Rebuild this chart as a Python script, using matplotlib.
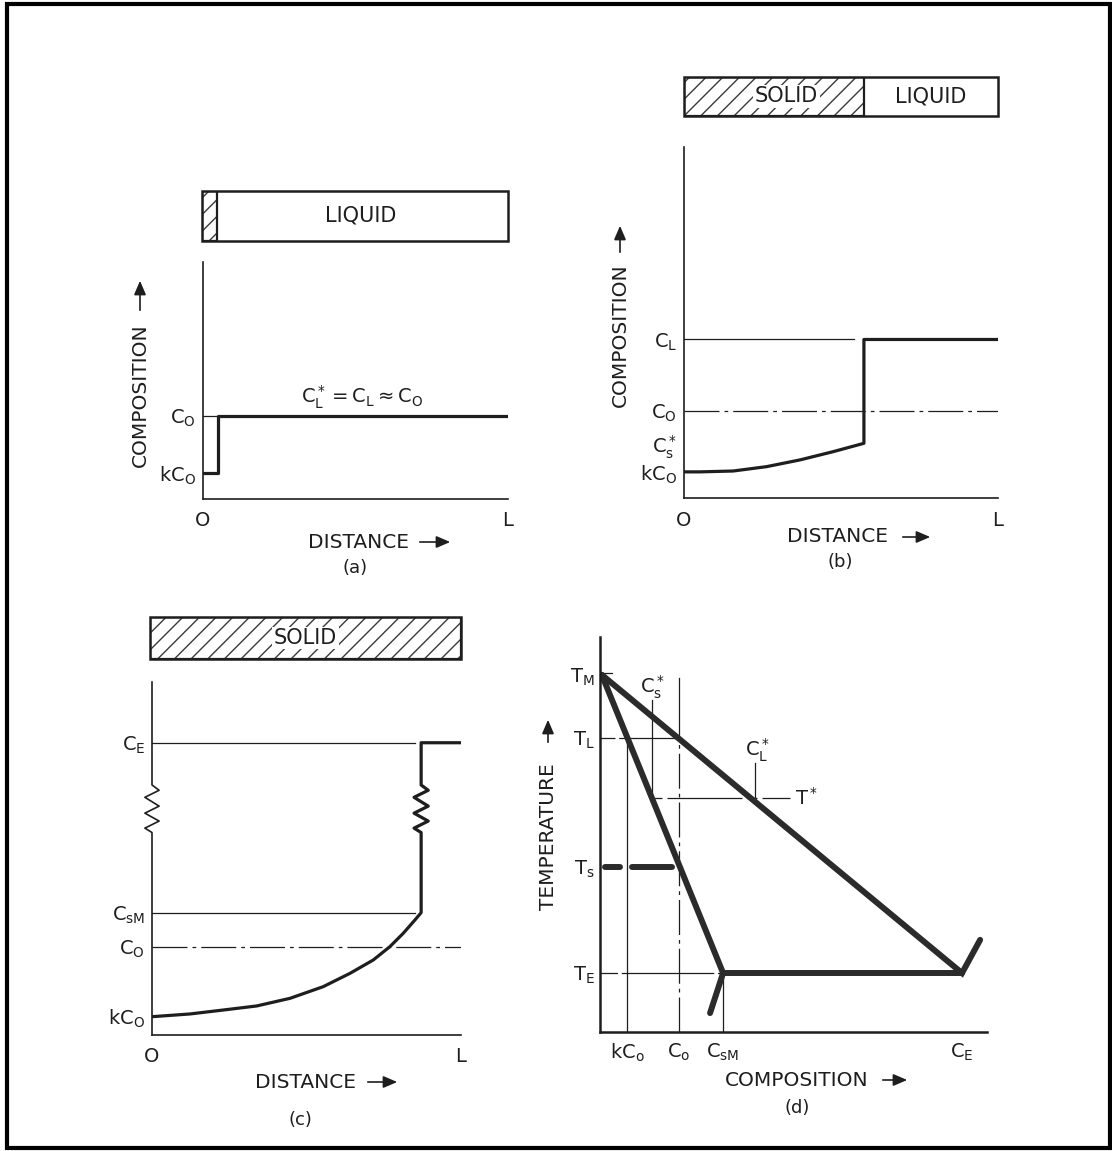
import numpy as np
import matplotlib.pyplot as plt
from matplotlib.patches import Rectangle, FancyArrowPatch

plt.rcParams['font.family'] = ['DejaVu Sans']
plt.rcParams['mathtext.default'] = 'regular'
plt.rcParams['hatch.linewidth'] = 1.0

W, H = 1112, 1151
INK = '#1e1e1e'
DASHDOT = (0, (28, 4, 3, 4))

# ---- (a) start of solidification, compositions in units of C0
a_dist = [0.0, 0.05, 0.05, 1.0]
a_comp = [0.31, 0.31, 1.0, 1.0]
a_c0, a_kc0 = 1.0, 0.31
a_solid = 0.05

# ---- (b) part solid
b_curve_dist = [0.0, 0.051, 0.157, 0.263, 0.369, 0.475, 0.573]
b_curve_comp = [0.30, 0.30, 0.31, 0.36, 0.437, 0.532, 0.628]
b_front = 0.573
b_c0, b_kc0, b_cs_star, b_cl = 1.0, 0.30, 0.628, 1.82

# ---- (c) fully solid, eutectic at the end
c_curve_dist = [0.0, 0.123, 0.231, 0.339, 0.447, 0.554, 0.641, 0.716, 0.770, 0.813, 0.851, 0.871]
c_curve_comp = [0.208, 0.239, 0.284, 0.330, 0.417, 0.549, 0.701, 0.852, 1.004, 1.155, 1.307, 1.39]
c_front = 0.871
c_kc0, c_c0, c_csm, c_ce = 0.208, 1.0, 1.39, 3.32
c_zig_comp = [2.30, 2.35, 2.43, 2.52, 2.60, 2.70, 2.78, 2.84]
c_zig_side = [0, -1, 1, -1, 1, -1, 1, 0]

# ---- (d) phase diagram, composition in units of CE, temperature in units of TM
d_kc0, d_c0, d_csm, d_ce = 0.075, 0.218, 0.34, 1.0
d_cs_star, d_cl_star = 0.144, 0.428
d_tm, d_tl, d_tstar, d_ts, d_te = 1.0, 0.824, 0.655, 0.462, 0.165
d_liq_x = [0.005, 1.0, 1.05]
d_liq_t = [1.0, 0.165, 0.258]
d_sol_x = [0.005, 0.34, 0.304]
d_sol_t = [1.0, 0.165, 0.053]
d_ts_x = [0.014, 0.055, np.nan, 0.088, 0.199]

fig = plt.figure(figsize=(W / 100, H / 100), dpi=100)


def px_axes(left, top, right, bottom):
    return fig.add_axes([left / W, 1 - bottom / H, (right - left) / W, (bottom - top) / H])


def px(x, y):
    return (x / W, 1 - y / H)


def axis_title(text, start, a0, a1, vertical=False):
    if vertical:
        fig.text(*px(*start), text, rotation=90, ha='center', va='bottom', fontsize=14.5, color=INK)
    else:
        fig.text(*px(*start), text, ha='left', va='center', fontsize=14.5, color=INK)
    fig.add_artist(FancyArrowPatch(px(*a0), px(*a1), transform=fig.transFigure,
                                   arrowstyle='-|>,head_length=0.7,head_width=0.3',
                                   mutation_scale=12, lw=1.2, color=INK))


def style(ax, xlim, ylim, spine_lw=1.2, left=True):
    ax.set_xlim(*xlim)
    ax.set_ylim(*ylim)
    for s in ['top', 'right']:
        ax.spines[s].set_visible(False)
    ax.spines['left'].set_visible(left)
    for s in ['left', 'bottom']:
        ax.spines[s].set_linewidth(spine_lw)
        ax.spines[s].set_color(INK)
    ax.tick_params(length=0, labelsize=14, colors=INK)
    ax.patch.set_alpha(0)


def bar(box, solid, labels):
    ax = px_axes(*box)
    ax.set_xlim(0, 1)
    ax.set_ylim(0, 1)
    ax.axis('off')
    ax.add_patch(Rectangle((0, 0), solid, 1, facecolor='white', edgecolor='#3a3a3a', hatch='//', lw=0))
    ax.add_patch(Rectangle((0, 0), solid, 1, fill=False, edgecolor=INK, lw=1.6))
    ax.add_patch(Rectangle((0, 0), 1, 1, fill=False, edgecolor=INK, lw=1.8, clip_on=False))
    for x, s, boxed in labels:
        kw = dict(bbox=dict(facecolor='white', edgecolor='none', pad=1)) if boxed else {}
        ax.text(x, 0.5, s, ha='center', va='center', fontsize=15, color=INK, **kw)


# ================= (a)
ax = px_axes(203, 262, 508, 499)
style(ax, (0, 1), (0, 2.86))
ax.plot([0, a_solid], [a_c0, a_c0], color=INK, lw=0.9)
ax.plot(a_dist, a_comp, color=INK, lw=2.3)
ax.set_yticks([a_kc0, a_c0], labels=['$kC_O$', '$C_O$'])
ax.set_xticks([0, 1], labels=['O', 'L'])
ax.tick_params(axis='y', pad=5)
ax.tick_params(axis='x', pad=9)
ax.text(0.52, 1.23, r'$C^*_L = C_L \approx C_O$', ha='center', va='center', fontsize=14, color=INK)
bar((202, 191, 508, 241), a_solid, [(0.52, 'LIQUID', False)])
axis_title('DISTANCE', (308, 542), (417, 542), (453, 542))
fig.text(*px(355, 568), '(a)', ha='center', va='center', fontsize=13, color=INK)
axis_title('COMPOSITION', (140, 467), (140, 313), (140, 278), vertical=True)

# ================= (b)
ax = px_axes(684, 147, 998, 498)
style(ax, (0, 1), (0, 4.03))
ax.plot([0, 0.54], [b_cl, b_cl], color=INK, lw=0.9)
ax.plot([0, 1], [b_c0, b_c0], color=INK, lw=0.9, linestyle=DASHDOT)
ax.plot(b_curve_dist + [b_front, 1.0], b_curve_comp + [b_cl, b_cl], color=INK, lw=2.3)
ax.set_yticks([b_kc0, b_cs_star, b_c0, b_cl], labels=['$kC_O$', '$C^*_s$', '$C_O$', '$C_L$'])
ax.set_xticks([0, 1], labels=['O', 'L'])
ax.tick_params(axis='y', pad=5)
ax.tick_params(axis='x', pad=9)
bar((684, 77, 998, 116), b_front,
    [(b_front / 2 + 0.04, 'SOLID', True), ((1 + b_front) / 2, 'LIQUID', False)])
axis_title('DISTANCE', (787, 537), (900, 537), (933, 537))
fig.text(*px(840, 562), '(b)', ha='center', va='center', fontsize=13, color=INK)
axis_title('COMPOSITION', (620, 407), (620, 255), (620, 223), vertical=True)

# ================= (c)
ax = px_axes(152, 682, 461, 1035)
style(ax, (0, 1), (0, 4.01), left=False)
amp = 0.023
ax.plot([0, 0] + [amp * s for s in c_zig_side] + [0, 0],
        [0, c_zig_comp[0]] + c_zig_comp + [c_zig_comp[-1], 4.01], color=INK, lw=1.2, clip_on=False)
ax.plot([0, 0.85], [c_ce, c_ce], color=INK, lw=0.9)
ax.plot([0, 0.85], [c_csm, c_csm], color=INK, lw=0.9)
ax.plot([0, 1], [c_c0, c_c0], color=INK, lw=0.9, linestyle=DASHDOT)
prof_x = c_curve_dist + [c_front] + [c_front + amp * s for s in c_zig_side] + [c_front, 1.0]
prof_y = c_curve_comp + [c_zig_comp[0]] + c_zig_comp + [c_ce, c_ce]
ax.plot(prof_x, prof_y, color=INK, lw=2.3)
ax.set_yticks([c_kc0, c_c0, c_csm, c_ce], labels=['$kC_O$', '$C_O$', '$C_{sM}$', '$C_E$'])
ax.set_xticks([0, 1], labels=['O', 'L'])
ax.tick_params(axis='y', pad=5)
ax.tick_params(axis='x', pad=9)
bar((150, 617, 461, 659), 1.0, [(0.5, 'SOLID', True)])
axis_title('DISTANCE', (255, 1082), (365, 1082), (400, 1082))
fig.text(*px(300, 1120), '(c)', ha='center', va='center', fontsize=13, color=INK)

# ================= (d)
ax = px_axes(600, 637, 987, 1032)
style(ax, (0, 1.069), (0, 1.106), spine_lw=1.8)
thin = dict(color=INK, lw=0.9)
ax.plot([0, 0.033], [1.006, 1.006], **thin)
ax.plot([0, d_c0], [d_tl, d_tl], dashes=(12, 3, 40, 0), **thin)
ax.plot([d_kc0, d_kc0], [0, d_tl], **thin)
ax.plot([d_c0, d_c0], [d_tl, 0.992], **thin)
ax.plot([d_c0, d_c0], [0, d_tl], linestyle=DASHDOT, **thin)
ax.plot([d_cs_star, d_cs_star], [d_tstar, 0.930], **thin)
ax.plot([d_cs_star, 0.525], [d_tstar, d_tstar], linestyle=(0, (8, 4, 60, 4)), **thin)
ax.plot([d_cl_star, d_cl_star], [0.645, 0.753], **thin)
ax.plot([0, d_csm], [d_te, d_te], dashes=(14, 3, 60, 0), **thin)
ax.plot([d_csm, d_csm], [0, d_te], **thin)
thick = dict(color='#2b2b2b', lw=4.3, solid_capstyle='round', solid_joinstyle='miter')
ax.plot(d_liq_x, d_liq_t, **thick)
ax.plot(d_sol_x, d_sol_t, **thick)
ax.plot([d_csm, d_ce], [d_te, d_te], **thick)
ax.plot(d_ts_x, [d_ts] * len(d_ts_x), **thick)
ax.set_yticks([d_te, d_ts, d_tl, d_tm], labels=['$T_E$', '$T_s$', '$T_L$', '$T_M$'])
ax.set_xticks([d_kc0, d_c0, d_csm, d_ce], labels=['$kC_o$', '$C_o$', '$C_{sM}$', '$C_E$'])
ax.tick_params(axis='y', pad=4)
ax.tick_params(axis='x', pad=7)
ax.text(d_cs_star, 0.966, '$C^*_s$', ha='center', va='center', fontsize=14, color=INK)
ax.text(d_cl_star + 0.006, 0.79, '$C^*_L$', ha='center', va='center', fontsize=14, color=INK)
ax.text(0.54, d_tstar, '$T^*$', ha='left', va='center', fontsize=14, color=INK)
axis_title('COMPOSITION', (725, 1080), (880, 1080), (910, 1080))
fig.text(*px(797, 1108), '(d)', ha='center', va='center', fontsize=13, color=INK)
axis_title('TEMPERATURE', (548, 910), (548, 745), (548, 717), vertical=True)

# outer frame
fig.add_artist(Rectangle(px(7, 1148), 1103 / W, 1144 / H, transform=fig.transFigure,
                         fill=False, edgecolor='black', lw=3))

fig.savefig('out.png', dpi=100)
